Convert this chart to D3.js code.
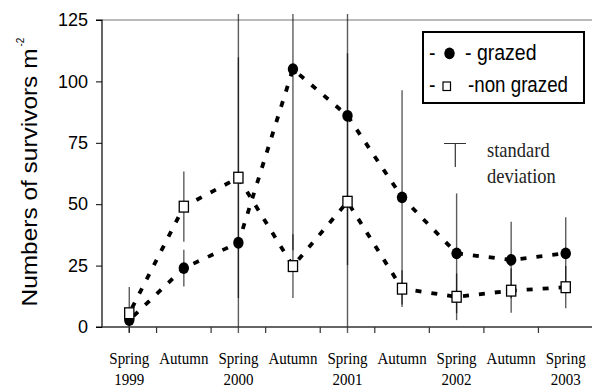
<!DOCTYPE html>
<html>
<head>
<meta charset="utf-8">
<script src="https://cdn.jsdelivr.net/npm/d3@7"></script>
<style>
  html, body { margin: 0; padding: 0; background: #fff; }
  svg { display: block; }
</style>
</head>
<body>
<svg id="chart" width="592" height="390"></svg>
<script>
// ---- data ----
const categories = ["Spring 1999","Autumn 1999","Spring 2000","Autumn 2000","Spring 2001","Autumn 2001","Spring 2002","Autumn 2002","Spring 2003"];
const seasonLabels = ["Spring","Autumn","Spring","Autumn","Spring","Autumn","Spring","Autumn","Spring"];
const yearLabels = ["1999","","2000","","2001","","2002","","2003"];
const grazed = [2.8, 24, 34.3, 105, 86, 52.8, 30, 27.3, 30];
const grazedSD = [5, 7.5, 95, 73.7, 60.8, 43.6, 24.4, 15.6, 14.7];
const nonGrazed = [5.6, 49, 60.8, 24.8, 51, 15.6, 12.3, 14.8, 16.2];
const nonGrazedSD = [10.7, 14.3, 49, 13, 60.5, 7.5, 9.5, 9, 8.6];
const yTicks = [0, 25, 50, 75, 100, 125];
const legendLabels = ["- grazed", "-non grazed"];
const sdLegend = ["standard", "deviation"];

// ---- scales ----
const svg = d3.select("#chart");
const x = d3.scaleBand().domain(categories).range([102, 593]).paddingInner(0).paddingOuter(0);
const cx = c => x(c) + x.bandwidth() / 2;
const y = d3.scaleLinear().domain([0, 125]).range([327, 20]);

const sans = "'Liberation Sans', Arial, Helvetica, sans-serif";
const serif = "'Liberation Serif', 'Times New Roman', serif";

// top frame line at 125
svg.append("line")
  .attr("x1", 102).attr("x2", 592).attr("y1", y(125)).attr("y2", y(125))
  .attr("stroke", "#777").attr("stroke-width", 1);

// clip for error bars
svg.append("defs").append("clipPath").attr("id", "barclip")
  .append("rect").attr("x", 0).attr("y", 14).attr("width", 592).attr("height", 319);

// error bars
const bars = svg.append("g").attr("clip-path", "url(#barclip)");
function drawBars(vals, sds) {
  bars.selectAll(null).data(categories).enter().append("line")
    .attr("x1", d => cx(d)).attr("x2", d => cx(d))
    .attr("y1", (d, i) => y(vals[i] + sds[i]))
    .attr("y2", (d, i) => y(vals[i] - sds[i]))
    .attr("stroke", "#000").attr("stroke-opacity", 0.64).attr("stroke-width", 1.4);
}
drawBars(grazed, grazedSD);
drawBars(nonGrazed, nonGrazedSD);

// y axis
const yAxis = svg.append("g").attr("transform", "translate(102,0)")
  .call(d3.axisLeft(y).tickValues(yTicks).tickSize(6).tickPadding(8).tickFormat(d3.format("d")));
yAxis.select(".domain").attr("stroke", "#000").attr("stroke-width", 1.2).attr("d", `M-6,${y(125)}H0V${y(0)}H-6`);
yAxis.selectAll(".tick line").attr("stroke", "#000");
yAxis.selectAll("text").attr("font-family", sans).attr("font-size", 18).attr("fill", "#000");

// x axis line and boundary ticks
svg.append("line").attr("x1", 102).attr("x2", 592).attr("y1", y(0)).attr("y2", y(0))
  .attr("stroke", "#333").attr("stroke-width", 1.3);
svg.selectAll(null).data(categories.slice(1)).enter().append("line")
  .attr("x1", d => x(d)).attr("x2", d => x(d))
  .attr("y1", y(0)).attr("y2", y(0) + 6)
  .attr("stroke", "#333").attr("stroke-width", 1.2);

// x labels
const xl = svg.append("g").attr("font-family", serif).attr("font-size", 15).attr("fill", "#000").attr("text-anchor", "middle");
xl.selectAll(null).data(categories).enter().append("text")
  .attr("transform", d => `translate(${cx(d)},364) scale(1,1.18)`)
  .text((d, i) => seasonLabels[i]);
xl.selectAll(null).data(categories).enter().append("text")
  .attr("transform", d => `translate(${cx(d)},385) scale(1,1.18)`)
  .text((d, i) => yearLabels[i]);

// y title
const yt = svg.append("text")
  .attr("transform", "translate(36.5,306.5) rotate(-90)")
  .attr("font-family", sans).attr("font-size", 21.5).attr("fill", "#000");
yt.append("tspan").text("Numbers of survivors m").attr("textLength", 258).attr("lengthAdjust", "spacingAndGlyphs");
yt.append("tspan").attr("dy", -13).attr("dx", 2).attr("font-size", 10).text("-2");

// series lines
const lineGen = vals => d3.line().x(d => cx(d)).y((d, i) => y(vals[i]))(categories);
svg.append("path").attr("d", lineGen(grazed))
  .attr("fill", "none").attr("stroke", "#000").attr("stroke-width", 3.8).attr("stroke-dasharray", "6,10").attr("stroke-dashoffset", -6);
svg.append("path").attr("d", lineGen(nonGrazed))
  .attr("fill", "none").attr("stroke", "#000").attr("stroke-width", 3.8).attr("stroke-dasharray", "6,10").attr("stroke-dashoffset", -6);

// markers
svg.selectAll(null).data(categories).enter().append("ellipse")
  .attr("cx", d => cx(d)).attr("cy", (d, i) => y(grazed[i]))
  .attr("rx", 5.2).attr("ry", 5.9).attr("fill", "#000");
svg.selectAll(null).data(categories).enter().append("rect")
  .attr("x", d => cx(d) - 4.6).attr("y", (d, i) => y(nonGrazed[i]) - 5.4)
  .attr("width", 9.2).attr("height", 10.8)
  .attr("fill", "#fff").attr("stroke", "#000").attr("stroke-width", 1.3);

// legend box
const lg = svg.append("g");
lg.append("rect").attr("x", 423).attr("y", 32).attr("width", 161).attr("height", 71)
  .attr("fill", "#fff").attr("stroke", "#000").attr("stroke-width", 2);
lg.append("text").attr("transform", "translate(429,60) scale(1,1.15)").attr("font-family", sans).attr("font-size", 19.5).text("-");
lg.append("ellipse").attr("cx", 449.5).attr("cy", 53.3).attr("rx", 5.2).attr("ry", 5.9).attr("fill", "#000");
lg.append("text").attr("transform", "translate(465,60) scale(1,1.15)").attr("font-family", sans).attr("font-size", 19.5).text(legendLabels[0]);
lg.append("text").attr("transform", "translate(429,92) scale(1,1.15)").attr("font-family", sans).attr("font-size", 19.5).text("-");
lg.append("rect").attr("x", 443).attr("y", 82).attr("width", 7.5).attr("height", 8.5)
  .attr("fill", "#fff").attr("stroke", "#000").attr("stroke-width", 1.2);
lg.append("text").attr("transform", "translate(468,92) scale(1,1.15)").attr("font-family", sans).attr("font-size", 19.5)
  .attr("textLength", 100).attr("lengthAdjust", "spacingAndGlyphs").text(legendLabels[1]);

// standard deviation legend
svg.append("path").attr("d", "M444,143.5H466M455.3,143.5V167")
  .attr("fill", "none").attr("stroke", "#333").attr("stroke-width", 1.2);
svg.selectAll(null).data(sdLegend).enter().append("text")
  .attr("transform", (d, i) => `translate(487,${157 + i * 26}) scale(1,1.12)`)
  .attr("font-family", serif).attr("font-size", 18.5).attr("fill", "#222")
  .text(d => d);
</script>
</body>
</html>
